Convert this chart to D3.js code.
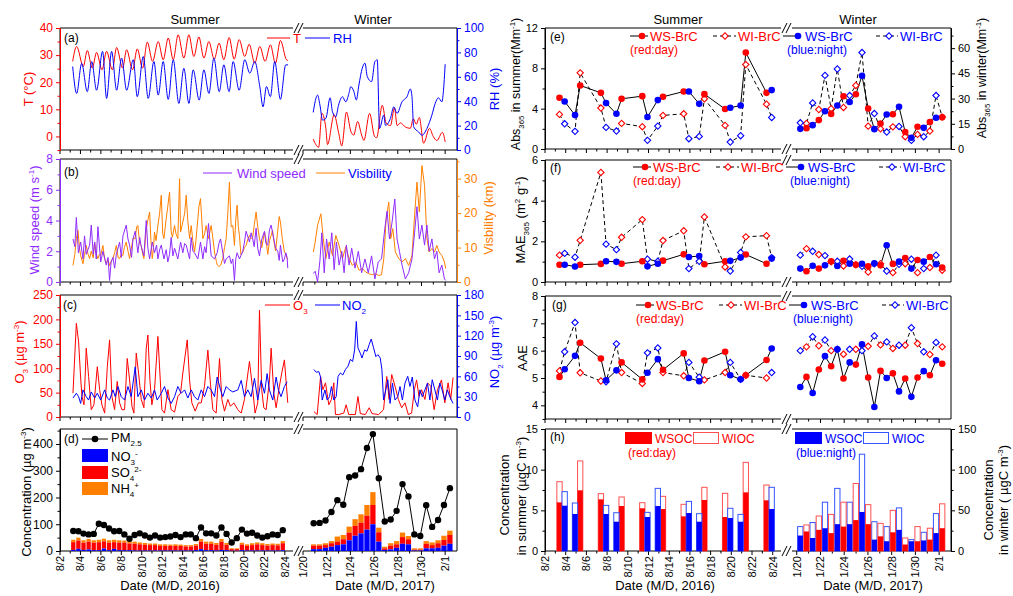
<!DOCTYPE html>
<html>
<head>
<meta charset="utf-8">
<script src="https://cdn.jsdelivr.net/npm/d3@7"></script>
<style>
  body { margin: 0; background: #fff; }
  svg text { font-family: "Liberation Sans", Arial, sans-serif; }
</style>
</head>
<body>
<script>
// ---------------- data (days: August 2016 / January 2017, 2/1 = day 32) ----------------
var sumTickDays = [2, 4, 6, 8, 10, 12, 14, 16, 18, 20, 22, 24];
var sumTickLabels = ["8/2", "8/4", "8/6", "8/8", "8/10", "8/12", "8/14", "8/16", "8/18", "8/20", "8/22", "8/24"];
var winTickDays = [20, 22, 24, 26, 28, 30, 32];
var winTickLabels = ["1/20", "1/22", "1/24", "1/26", "1/28", "1/30", "2/1"];

// (a) temperature and RH  [day, value]
var tempSummer = [[3.24,27.7],[3.63,33.2],[4.28,25.8],[4.67,31.7],[5.16,25.2],[5.58,31.0],[6.11,24.6],[6.56,31.4],[7.12,24.6],[7.54,32.8],[8.13,25.2],[8.52,32.0],[9.1,24.6],[9.56,32.3],[10.08,25.2],[10.54,34.8],[11.06,27.7],[11.61,35.0],[12.1,28.3],[12.59,36.3],[13.08,28.3],[13.56,37.5],[14.12,28.9],[14.61,37.5],[15.1,29.5],[15.59,36.7],[16.08,28.9],[16.57,35.0],[17.09,28.5],[17.57,34.4],[18.03,28.3],[18.55,36.5],[19.04,28.5],[19.53,35.7],[20.08,29.5],[20.51,34.0],[21.06,27.0],[21.55,33.2],[22.07,27.7],[22.59,33.8],[23.08,27.0],[23.57,35.4],[24.16,28.3],[24.32,28.0]];
var rhSummer = [[3.24,68.4],[3.63,46.4],[4.12,71],[4.67,47.8],[5.1,72.5],[5.58,49],[6.17,80.8],[6.56,42.3],[7.05,80.8],[7.54,49],[8.03,75.3],[8.52,49],[9.17,74],[9.56,43.7],[10.15,76.6],[10.63,42.3],[11.19,72.5],[11.61,45],[12.1,72.5],[12.59,41.5],[13.08,74],[13.63,38.2],[14.12,67],[14.61,38.2],[15.03,65.7],[15.62,40.9],[16.08,65.7],[16.57,46.4],[17.06,75.3],[17.58,47.8],[18.03,69.8],[18.55,47.8],[18.94,72.5],[19.53,49],[20.08,74],[20.57,63],[21.06,72.5],[21.55,52],[21.87,35.4],[22.2,52],[22.59,43.7],[23.01,72.5],[23.57,41.5],[24.09,69.8],[24.32,69.8]];
var tempWinter = [[20.86,-1],[21.32,-4],[21.6,8.5],[21.93,3],[22.07,-3],[22.63,8],[23.0,1.5],[23.27,-3.5],[23.67,9],[24.03,2],[24.28,0.5],[24.61,5.5],[24.95,0.5],[25.14,-1.5],[25.62,8.5],[26.04,0],[26.21,-0.5],[26.69,11.5],[27.02,5],[27.38,4],[27.72,10.5],[27.95,4],[28.22,5],[28.64,3.5],[29.06,3],[29.31,6.5],[29.56,4.5],[29.82,7],[30.18,-2.5],[30.68,3],[30.99,0],[31.3,-1.5],[31.77,1.5],[32.0,-2]];
var rhWinter = [[20.86,30.8],[21.23,45],[21.43,36.8],[21.65,24.5],[21.93,25.9],[22.29,42.8],[22.49,31.3],[22.77,27.2],[23.0,36.8],[23.33,43.7],[23.61,39.5],[23.88,46.5],[24.03,51.9],[24.3,47.8],[24.5,41],[24.72,53.3],[25.0,67],[25.23,71.2],[25.43,60.1],[25.79,56],[26.07,72.5],[26.27,73.9],[26.46,17.6],[26.82,28.6],[26.96,20.3],[27.38,25.9],[27.66,35.4],[27.94,30],[28.36,39.5],[28.78,43.7],[29.06,50],[29.2,43.7],[29.34,19],[29.76,14.8],[30.04,12.1],[30.46,17.6],[30.88,28.6],[31.16,38.2],[31.43,42.8],[31.72,39.5],[31.85,47.8],[32.0,70.3]];

// (b) wind speed and visibility
var windSummer = [[3.27,2.8],[3.45,2.3],[3.6,4.2],[3.8,1.9],[4.02,2.6],[4.25,1.5],[4.4,3.0],[4.57,1.8],[4.9,2.4],[5.06,3.7],[5.25,1.8],[5.39,2.6],[5.55,1.5],[5.71,3.6],[5.98,1.3],[6.2,2.0],[6.53,1.1],[6.7,1.6],[6.85,0.1],[7.0,1.3],[7.18,1.6],[7.35,0.9],[7.51,1.8],[7.83,2.6],[8.0,1.6],[8.16,3.0],[8.48,3.7],[8.65,2.8],[8.81,2.4],[9.0,1.6],[9.14,2.8],[9.36,3.3],[9.62,1.9],[9.8,2.9],[9.95,2.3],[10.21,1.7],[10.44,4.0],[10.6,2.2],[10.77,1.5],[11.03,2.6],[11.25,1.9],[11.45,2.4],[11.58,1.5],[11.75,2.1],[11.91,2.4],[12.17,1.5],[12.39,2.1],[12.55,1.3],[12.72,1.8],[12.88,2.9],[13.05,1.7],[13.21,2.2],[13.53,1.5],[13.8,2.6],[14.02,1.9],[14.2,2.5],[14.35,2.4],[14.68,1.5],[14.84,2.9],[15.0,2.0],[15.16,1.9],[15.49,1.5],[15.75,2.6],[15.98,1.5],[16.15,2.3],[16.3,1.9],[16.53,3.8],[16.79,1.7],[17.12,1.5],[17.38,1.9],[17.55,2.5],[17.71,2.8],[17.93,1.9],[18.1,1.2],[18.26,1.5],[18.58,1.7],[18.75,1.2],[18.91,1.5],[19.07,0.1],[19.2,1.5],[19.33,1.9],[19.56,1.5],[19.89,2.0],[20.05,2.6],[20.21,3.3],[20.54,2.6],[20.7,3.2],[20.86,2.8],[21.0,2.3],[21.19,3.5],[21.35,2.2],[21.52,1.7],[21.75,2.8],[22.01,3.3],[22.15,2.5],[22.33,2.4],[22.5,3.4],[22.66,3.7],[22.92,2.8],[23.1,2.2],[23.31,2.0],[23.45,1.4],[23.57,2.4],[23.8,1.3],[23.96,1.5],[24.1,1.9],[24.22,1.6],[24.29,0.9]];
var visSummer = [[3.27,4.8],[3.45,8],[3.6,12.6],[3.76,15],[3.9,10],[4.02,7.7],[4.25,5.3],[4.4,8],[4.57,10.6],[4.75,8],[4.9,6.8],[5.06,9],[5.25,7],[5.39,11.6],[5.55,8],[5.71,6.8],[5.85,8],[5.98,7.7],[6.2,10.6],[6.35,7],[6.53,5.3],[6.7,6.5],[6.85,4.8],[7.0,6],[7.18,6.8],[7.35,8.5],[7.51,10.6],[7.7,7],[7.83,6.8],[8.0,8],[8.16,7.7],[8.3,10],[8.48,11.6],[8.65,9],[8.81,6.8],[9.14,12.6],[9.36,12.6],[9.5,16],[9.62,16.4],[9.8,11],[9.95,10.6],[10.1,8],[10.21,6.8],[10.44,15.5],[10.6,18],[10.77,20.3],[10.9,12],[11.03,6.8],[11.15,10],[11.25,14.5],[11.4,12],[11.58,16.4],[11.75,20],[11.91,25.2],[12.05,14],[12.17,12.6],[12.3,16],[12.39,18.4],[12.55,22],[12.72,26.1],[12.8,20],[12.88,14.5],[13.0,13],[13.21,16.4],[13.35,14],[13.53,12.6],[13.7,30],[13.8,14.5],[14.02,17.4],[14.2,20],[14.35,25.2],[14.5,18],[14.68,12.6],[14.84,16.4],[15.0,12],[15.16,8.7],[15.3,12],[15.49,18.4],[15.6,22],[15.75,24.2],[15.98,12.6],[16.15,14],[16.3,16.4],[16.53,12.6],[16.79,16.4],[16.95,13],[17.12,8.7],[17.3,6],[17.38,5],[17.55,4.5],[17.71,4.8],[17.93,6.8],[18.1,10],[18.26,12.6],[18.42,20],[18.58,29],[18.75,16],[18.91,16.4],[19.07,10.6],[19.2,18],[19.33,22.3],[19.45,16],[19.56,13.5],[19.7,8],[19.89,8.7],[20.05,10],[20.21,10.6],[20.4,12.6],[20.54,13.5],[20.7,12.6],[20.86,13],[21.0,16.4],[21.19,20.3],[21.35,16],[21.52,12.6],[21.75,10],[22.01,14.5],[22.15,12.6],[22.33,8],[22.5,12],[22.66,13.5],[22.8,15],[22.92,12],[23.1,9],[23.31,15],[23.45,19],[23.57,17.4],[23.75,12.6],[23.96,8.7],[24.1,8],[24.22,6.8],[24.29,6.5]];
var windWinter = [[20.87,0.55],[21.03,0.7],[21.23,0],[21.43,1.4],[21.59,3.2],[21.79,0.6],[21.99,2.8],[22.21,1.5],[22.43,3.2],[22.63,0.8],[22.82,2.6],[23.05,1.1],[23.27,2.0],[23.47,0.6],[23.66,2.4],[23.89,1.1],[24.11,2.2],[24.39,0.9],[24.67,2.0],[24.95,0.6],[25.23,1.5],[25.51,0.6],[25.79,1.7],[26.07,0.2],[26.35,1.3],[26.63,1.5],[26.91,3.5],[27.1,4.6],[27.3,2.8],[27.52,3.9],[27.75,5.4],[27.94,2.8],[28.14,2.0],[28.36,1.1],[28.64,0.2],[28.92,0.6],[29.2,1.5],[29.42,3.2],[29.62,4.9],[29.82,2.8],[30.04,3.7],[30.26,2.4],[30.46,3.7],[30.65,2.0],[30.88,2.8],[31.1,1.5],[31.3,2.0],[31.49,0.6],[31.72,1.1],[31.94,0.2],[32.05,0.1]];
var visWinter = [[20.87,8.7],[21.03,11.6],[21.23,16.5],[21.51,19.8],[21.71,12.6],[21.93,6.8],[22.21,11.6],[22.49,7.7],[22.77,13.5],[23.05,10.6],[23.33,6.8],[23.61,10.2],[23.89,6.8],[24.17,4.8],[24.45,5.8],[24.73,3.4],[25.01,3.9],[25.29,2.9],[25.56,2.4],[25.84,2.1],[26.12,2.4],[26.4,1.9],[26.63,2.1],[26.82,6.8],[27.02,18.4],[27.24,23.2],[27.41,12.6],[27.58,15.5],[27.8,8.7],[28.08,6.8],[28.36,5.8],[28.64,6.8],[28.92,4.8],[29.2,7.7],[29.42,19.3],[29.62,29],[29.82,20.3],[30.04,33.8],[30.26,28],[30.46,12.6],[30.65,8.7],[30.88,9.7],[31.1,8.7],[31.3,10.6],[31.49,8.7],[31.72,7.7],[31.94,5.8],[32.05,3.9]];

// (c) O3 and NO2
var o3Summer = [[3.27,49],[3.6,192],[3.82,154],[4.02,80],[4.15,42],[4.35,25],[4.57,141],[4.8,83],[5.06,15],[5.32,25],[5.65,103],[5.88,56],[6.1,25],[6.37,8],[6.63,103],[6.85,158],[7.08,42],[7.34,15],[7.6,73],[7.83,29],[8.06,15],[8.32,15],[8.58,120],[8.81,76],[9.04,22],[9.23,8],[9.46,131],[9.69,90],[9.95,36],[10.21,19],[10.44,141],[10.6,168],[10.8,76],[10.99,25],[11.25,56],[11.58,165],[11.74,103],[11.97,15],[12.23,8],[12.56,56],[12.88,15],[13.21,10],[13.53,42],[13.8,49],[14.02,90],[14.45,158],[14.68,76],[14.9,29],[15.23,12],[15.55,29],[15.82,29],[16.14,63],[16.47,137],[16.73,66],[16.96,15],[17.28,8],[17.61,120],[17.84,36],[18.1,12],[18.42,36],[18.68,22],[19.01,29],[19.4,15],[19.73,8],[20.05,36],[20.54,114],[20.86,56],[21.09,8],[21.35,29],[21.52,219],[21.74,56],[21.94,19],[22.17,15],[22.5,76],[22.66,141],[22.92,49],[23.15,19],[23.47,63],[23.7,90],[23.96,117],[24.16,63],[24.29,29]];
var no2Summer = [[3.27,28],[3.6,35],[3.82,30],[4.02,20],[4.25,40],[4.57,30],[4.8,25],[5.06,37],[5.39,28],[5.65,35],[5.98,25],[6.37,40],[6.63,28],[6.85,25],[7.18,40],[7.41,30],[7.67,45],[7.99,30],[8.32,25],[8.65,45],[8.97,30],[9.36,74],[9.62,30],[9.95,40],[10.27,25],[10.6,35],[10.93,28],[11.25,40],[11.51,25],[11.91,35],[12.23,45],[12.56,28],[12.88,20],[13.21,30],[13.53,45],[13.86,35],[14.19,40],[14.51,28],[14.84,40],[15.16,30],[15.49,25],[15.82,40],[16.14,30],[16.47,45],[16.79,40],[17.12,30],[17.38,59],[17.71,40],[17.93,30],[18.26,45],[18.58,40],[18.91,37],[19.4,40],[19.73,54],[20.05,30],[20.38,40],[20.7,30],[21.03,57],[21.35,25],[21.68,54],[22.01,35],[22.27,64],[22.49,40],[22.82,25],[23.15,59],[23.37,40],[23.63,30],[23.96,45],[24.22,52]];
var o3Winter = [[20.92,11],[21.2,5],[21.48,83],[21.68,56],[21.9,70],[22.18,25],[22.4,36],[22.6,70],[22.74,5],[23.02,5],[23.44,8],[23.64,25],[23.86,5],[24.42,5],[24.64,42],[24.84,7],[25.26,5],[25.59,19],[25.82,7],[26.38,5],[26.8,15],[27.07,83],[27.27,36],[27.49,87],[27.77,63],[28.05,36],[28.33,19],[28.61,29],[28.89,5],[29.17,8],[29.4,56],[29.59,76],[29.79,42],[30.01,56],[30.29,36],[30.51,70],[30.79,63],[31.07,15],[31.35,56],[31.69,76],[31.97,29],[32.25,70],[32.47,36],[32.67,81]];
var no2Winter = [[20.92,70],[21.12,66],[21.34,67],[21.48,59],[21.62,25],[21.85,40],[22.04,25],[22.24,30],[22.4,45],[22.6,25],[22.8,30],[22.96,60],[23.16,65],[23.36,62],[23.58,70],[23.8,75],[24.0,85],[24.19,82],[24.36,99],[24.5,141],[24.64,102],[24.84,94],[24.98,87],[25.2,99],[25.4,97],[25.59,107],[25.76,115],[25.96,102],[26.15,89],[26.32,92],[26.52,87],[26.66,70],[26.8,25],[26.99,40],[27.16,55],[27.35,20],[27.55,50],[27.77,25],[28.0,30],[28.19,45],[28.39,25],[28.61,50],[28.84,60],[29.03,45],[29.23,59],[29.45,25],[29.68,15],[29.87,40],[30.07,30],[30.29,40],[30.51,50],[30.71,25],[30.91,55],[31.13,40],[31.35,25],[31.55,50],[31.74,40],[31.97,25],[32.19,40],[32.39,30],[32.67,20]];

// (d) PM2.5 and inorganic ions (two samples a day)
var pmSummerDays = [3.3,3.8,4.3,4.8,5.3,5.8,6.3,6.8,7.3,7.8,8.3,8.8,9.3,9.8,10.3,10.8,11.3,11.8,12.3,12.8,13.3,13.8,14.3,14.8,15.3,15.8,16.3,16.8,17.3,17.8,18.3,18.8,19.3,19.8,20.3,20.8,21.3,21.8,22.3,22.8,23.3,23.8];
var pmSummer = [75,74,65,62,64,102,97,84,74,75,62,46,60,66,58,50,58,50,52,54,60,52,62,62,48,88,66,66,58,88,64,32,48,80,65,68,58,50,55,62,60,78];
var no3Summer = [4,8,4,6,3,3,9,3,8,3,3,3,2,2,2,2,2,2,2,2,2,2,2,2,3,7,3,3,2,4,3,1,1,3,2,2,2,2,2,2,2,3];
var so4Summer = [29,31,27,29,28,30,27,28,25,28,28,25,25,23,21,20,20,17,17,17,17,17,15,15,17,28,24,24,21,31,20,6,6,21,17,20,23,20,18,20,19,26];
var nh4Summer = [9,11,9,10,9,9,10,9,9,9,8,8,8,7,7,6,6,6,6,5,6,5,5,5,6,10,8,8,7,10,7,3,3,7,6,7,7,7,6,6,6,8];
var pmWinterDays = [20.9,21.4,21.9,22.4,22.9,23.4,23.9,24.4,24.9,25.4,25.9,26.4,26.9,27.4,27.9,28.4,28.9,29.4,29.9,30.4,30.9,31.4,31.9,32.4];
var pmWinter = [104,105,114,146,190,173,276,282,306,385,437,272,110,118,150,250,204,62,56,171,90,116,172,235];
var no3Winter = [7,7,12,16,22,25,40,57,66,80,100,35,4,6,12,27,25,2,2,10,10,12,20,27];
var so4Winter = [13,13,10,13,13,19,29,37,40,52,72,35,6,14,13,25,19,3,3,17,12,17,21,33];
var nh4Winter = [5,5,7,8,19,16,22,25,31,40,48,17,6,9,12,17,12,5,5,10,10,11,16,16];

// (e)-(h) filter samples: day (red) and night (blue)
var sumDayT = [3.4,5.4,7.4,9.4,11.4,13.4,15.4,17.4,19.4,21.4,23.4];
var sumNightT = [3.9,4.9,7.9,8.9,11.9,12.9,15.9,16.9,19.9,20.9,23.9];
var winNightT = [20.3,21.34,22.38,23.42,24.46,25.5,26.54,27.58,28.62,29.66,30.7,31.74];
var winDayT = [20.82,21.86,22.9,23.94,24.98,26.02,27.06,28.1,29.14,30.18,31.22,32.26];

// (e) Abs365 (Mm-1)
var absWsDaySum = [5.08,6.3,5.57,4.98,5.24,5.18,5.7,5.44,3.96,9.56,5.57];
var absWsNightSum = [4.71,3.36,4.55,3.49,3.17,4.85,5.7,4.48,4.09,4.32,5.84];
var absWiDaySum = [3.43,7.55,4.06,2.54,2.21,3.33,3.49,4.98,2.34,8.37,4.45];
var absWiNightSum = [2.5,1.75,2.14,1.78,0.86,2.27,1.02,1.25,0.69,1.32,3.13];
var absWsDayWin = [12.4,17.2,20.9,31.4,32.6,24.1,15.2,20.7,10.1,13.2,16.0,18.9];
var absWsNightWin = [12.0,14.2,22.5,25.9,28.0,43.6,11.8,20.5,25.1,6.7,12.6,18.6];
var absWiDayWin = [15.2,23.5,24.0,24.7,37.8,13.6,12.0,13.2,7.3,8.7,10.7,19.0];
var absWiNightWin = [15.6,27.4,43.8,47.6,31.8,57.4,21.1,10.1,13.4,5.1,7.3,31.8];

// (f) MAE365 (m2 g-1)
var maeWsDaySum = [0.85,0.85,0.89,0.9,1.02,1.05,1.36,0.87,1.02,1.35,0.9];
var maeWsNightSum = [0.85,0.76,1.02,0.99,0.77,0.9,1.23,1.28,1.04,1.2,1.15];
var maeWiDaySum = [1.32,2.05,5.39,2.2,3.07,2.04,2.52,3.2,0.74,2.22,2.28];
var maeWiNightSum = [1.41,1.22,1.86,1.59,1.12,1.02,0.66,1.02,0.54,1.45,1.2];
var maeWsDayWin = [0.53,0.66,1.02,1.04,0.85,0.77,0.82,0.89,1.18,1.08,1.23,0.71];
var maeWsNightWin = [0.66,0.8,0.82,0.79,0.9,0.9,0.92,1.81,1.0,0.66,1.0,0.87];
var maeWiDayWin = [1.64,1.35,0.99,0.79,0.85,0.49,0.9,0.46,0.9,0.46,0.71,0.58];
var maeWiNightWin = [1.32,1.51,1.3,1.02,1.13,0.77,0.9,0.54,0.87,1.12,0.66,1.32];

// (g) AAE
var aaeWsDaySum = [5.04,6.29,5.71,5.57,4.95,5.3,5.9,5.64,5.96,5.1,5.66];
var aaeWsNightSum = [5.32,5.81,4.92,5.28,5.19,5.69,5.0,4.88,5.1,4.95,6.08];
var aaeWiDaySum = [5.26,5.19,4.89,5.2,4.8,5.2,5.08,4.93,5.2,5.1,5.0];
var aaeWiNightSum = [5.96,7.03,4.86,6.25,5.92,6.1,5.57,5.03,5.57,4.95,5.2];
var aaeWsDayWin = [5.04,5.31,5.43,4.98,5.49,5.02,5.26,5.17,4.98,5.02,5.1,5.52];
var aaeWsNightWin = [4.67,4.45,5.8,6.05,5.57,6.23,3.94,5.0,4.51,4.31,5.25,5.65];
var aaeWiDayWin = [6.14,6.18,6.0,5.87,6.05,6.16,6.21,6.08,6.2,6.26,5.86,6.14];
var aaeWiNightWin = [6.0,6.51,6.39,6.05,6.05,6.0,6.54,6.32,6.2,6.84,5.96,6.3];

// (h) WSOC and total (WSOC + WIOC), ugC m-3
var wsocDaySum = [5.98,7.46,6.35,5.53,5.25,5.16,4.26,6.27,4.18,7.21,6.23];
var totDaySum = [8.52,11.07,7.05,6.64,5.94,6.72,5.74,7.83,7.09,10.9,8.11];
var wsocNightSum = [5.57,4.55,4.55,3.6,4.18,5.53,4.67,3.6,4.06,3.6,5.16];
var totNightSum = [7.3,5.9,5.61,4.71,4.75,7.7,6.1,4.59,5.25,4.5,7.83];
var wsocDayWin = [24,26,22,30,38,33,18,23,8,12,14,28];
var totDayWin = [32,43,45,60,83,57,34,50,16,30,28,58];
var wsocNightWin = [19,16,28,33,33,48,14,12,26,12,13,22];
var totNightWin = [30,35,60,77,60,119,36,30,53,14,23,46];

// ---------------- drawing ----------------
var FONT = '"Liberation Sans", Arial, sans-serif';
var RED = "#ff0000", BLUE = "#0000ff", PURPLE = "#8f2bff", ORANGE = "#ff8000";

var svg = d3.select("body").append("svg")
    .attr("width", 1013).attr("height", 596)
    .style("font-family", FONT);

// x scales: left column and right column, each split in summer / winter
var xsL = d3.scaleLinear().domain([2, 24.8]).range([60, 293]);
var xwL = d3.scaleLinear().domain([20, 33]).range([303, 457]);
var xsR = d3.scaleLinear().domain([2, 24.8]).range([545, 781]);
var xwR = d3.scaleLinear().domain([19.6, 33]).range([792, 951]);

var sumMinor = d3.range(3, 24, 2), winMinor = d3.range(21, 32, 2);

function txt(x, y, parts, color, size, anchor, rot) {
    var t = svg.append("text")
        .attr("transform", "translate(" + x + "," + y + ")" + (rot ? " rotate(-90)" : ""))
        .attr("text-anchor", anchor || "start")
        .attr("fill", color || "#000")
        .style("font-size", size + "px");
    var shift = 0;
    parts.forEach(function(p) {
        var kind = p[1] || "";
        var target = kind === "sub" ? size * 0.3 : kind === "sup" ? -size * 0.4 : 0;
        t.append("tspan").attr("dy", target - shift)
            .style("font-size", (kind ? size * 0.62 : size) + "px").text(p[0]);
        shift = target;
    });
    return t;
}

function frame(xs, xw, y0, y1) {
    var g = svg.append("g").attr("stroke", "#000").attr("stroke-width", 1);
    var s0 = xs.range()[0], s1 = xs.range()[1], w0 = xw.range()[0], w1 = xw.range()[1];
    [y0, y1].forEach(function(y) {
        g.append("line").attr("x1", s0).attr("x2", s1).attr("y1", y).attr("y2", y);
        g.append("line").attr("x1", w0).attr("x2", w1).attr("y1", y).attr("y2", y);
        [1, 5].forEach(function(d) {
            g.append("line").attr("x1", s1 + d).attr("y1", y + 5).attr("x2", s1 + d + 5).attr("y2", y - 5);
        });
    });
    g.append("line").attr("x1", s0).attr("x2", s0).attr("y1", y0).attr("y2", y1);
    g.append("line").attr("x1", w1).attr("x2", w1).attr("y1", y0).attr("y2", y1);
    // bottom ticks
    [[xs, sumTickDays, sumMinor], [xw, winTickDays, winMinor]].forEach(function(a) {
        a[1].forEach(function(d) {
            g.append("line").attr("x1", a[0](d)).attr("x2", a[0](d)).attr("y1", y1).attr("y2", y1 + 4);
        });
        a[2].forEach(function(d) {
            g.append("line").attr("x1", a[0](d)).attr("x2", a[0](d)).attr("y1", y1).attr("y2", y1 + 2.5);
        });
    });
}

function dateLabels(xs, xw, y) {
    sumTickDays.forEach(function(d, i) {
        txt(xs(d) + 4, y, [[sumTickLabels[i]]], "#000", 11, "end", true);
    });
    winTickDays.forEach(function(d, i) {
        txt(xw(d) + 4, y, [[winTickLabels[i]]], "#000", 11, "end", true);
    });
}

function yAxis(scale, x, right, major, minor, color, size) {
    var mk = right ? d3.axisRight : d3.axisLeft;
    var g = svg.append("g").attr("transform", "translate(" + x + ",0)");
    g.append("g").call(mk(scale).tickValues(minor).tickSize(2.5).tickSizeOuter(0).tickFormat(""));
    g.append("g").call(mk(scale).tickValues(major).tickSize(4).tickSizeOuter(0).tickFormat(d3.format("d")));
    g.selectAll("path, line").attr("stroke", color);
    g.selectAll("text").attr("fill", color).style("font-size", (size || 12) + "px").style("font-family", FONT);
}

function series(data, xsc, ysc, color, curve) {
    svg.append("path").datum(data)
        .attr("fill", "none").attr("stroke", color).attr("stroke-width", 1)
        .attr("d", d3.line().x(function(d) { return xsc(d[0]); })
            .y(function(d) { return ysc(d[1]); }).curve(curve || d3.curveLinear));
}

function legLine(x1, x2, y, color, dash) {
    svg.append("line").attr("x1", x1).attr("x2", x2).attr("y1", y).attr("y2", y)
        .attr("stroke", color).attr("stroke-width", 1).attr("stroke-dasharray", dash || null);
}

function dot(x, y, c) {
    svg.append("circle").attr("cx", x).attr("cy", y).attr("r", 3.3).attr("fill", c);
}
function diamond(x, y, c) {
    svg.append("path").attr("d", d3.symbol().type(d3.symbolSquare).size(20)())
        .attr("transform", "translate(" + x + "," + y + ") rotate(45)")
        .attr("fill", "#fff").attr("stroke", c).attr("stroke-width", 1.1);
}

// headers
txt(195, 24, [["Summer"]], "#000", 13, "middle");
txt(373, 24, [["Winter"]], "#000", 13, "middle");
txt(678, 24, [["Summer"]], "#000", 13, "middle");
txt(858, 24, [["Winter"]], "#000", 13, "middle");

// ---------- (a) ----------
var yT = d3.scaleLinear().domain([-5, 40]).range([150, 28]);
var yRH = d3.scaleLinear().domain([0, 100]).range([150, 28]);
frame(xsL, xwL, 28, 150);
series(tempSummer, xsL, yT, RED, d3.curveMonotoneX);
series(tempWinter, xwL, yT, RED, d3.curveMonotoneX);
series(rhSummer, xsL, yRH, BLUE, d3.curveMonotoneX);
series(rhWinter, xwL, yRH, BLUE, d3.curveMonotoneX);
yAxis(yT, 60, false, [0, 10, 20, 30, 40], [-5, 5, 15, 25, 35], RED);
yAxis(yRH, 457, true, [0, 20, 40, 60, 80, 100], [10, 30, 50, 70, 90], BLUE);
txt(64, 42, [["(a)"]], "#000", 12);
legLine(267, 290, 38, RED); txt(293, 43, [["T"]], RED, 13);
legLine(305, 330, 38, BLUE); txt(333, 43, [["RH"]], BLUE, 13);
txt(33, 89, [["T (°C)"]], RED, 13, "middle", true);
txt(499, 89, [["RH (%)"]], BLUE, 13, "middle", true);

// ---------- (b) ----------
var yWS = d3.scaleLinear().domain([0, 8]).range([282, 159]);
var yVis = d3.scaleLinear().domain([0, 35.7]).range([282, 159]);
frame(xsL, xwL, 159, 282);
series(visSummer, xsL, yVis, ORANGE);
series(visWinter, xwL, yVis, ORANGE);
series(windSummer, xsL, yWS, PURPLE);
series(windWinter, xwL, yWS, PURPLE);
yAxis(yWS, 60, false, [0, 2, 4, 6, 8], [1, 3, 5, 7], PURPLE);
yAxis(yVis, 457, true, [0, 10, 20, 30], [5, 15, 25, 35], ORANGE);
txt(64, 176, [["(b)"]], "#000", 12);
legLine(203, 232, 173, PURPLE); txt(237, 178, [["Wind speed"]], PURPLE, 13);
legLine(316, 345, 173, ORANGE); txt(348, 178, [["Visbility"]], BLUE, 13);
txt(39, 220, [["Wind speed (m s"], ["-1", "sup"], [")"]], PURPLE, 13, "middle", true);
txt(493, 218, [["Visbility (km)"]], ORANGE, 13, "middle", true);

// ---------- (c) ----------
var yO3 = d3.scaleLinear().domain([0, 250]).range([417, 295]);
var yNO2 = d3.scaleLinear().domain([0, 180]).range([417, 295]);
frame(xsL, xwL, 295, 417);
series(o3Summer, xsL, yO3, RED);
series(o3Winter, xwL, yO3, RED);
series(no2Summer, xsL, yNO2, BLUE);
series(no2Winter, xwL, yNO2, BLUE);
yAxis(yO3, 60, false, [0, 50, 100, 150, 200, 250], [25, 75, 125, 175, 225], RED);
yAxis(yNO2, 457, true, [0, 30, 60, 90, 120, 150, 180], [15, 45, 75, 105, 135, 165], BLUE);
txt(63, 309, [["(c)"]], "#000", 12);
legLine(265, 290, 305, RED); txt(293, 310, [["O"], ["3", "sub"]], RED, 13);
legLine(315, 340, 305, BLUE); txt(342, 310, [["NO"], ["2", "sub"]], BLUE, 13);
txt(24, 352, [["O"], ["3", "sub"], [" (µg m"], ["-3", "sup"], [")"]], RED, 13, "middle", true);
txt(499, 352, [["NO"], ["2", "sub"], [" (µg m"], ["-3", "sup"], [")"]], BLUE, 13, "middle", true);

// ---------- (d) ----------
var yC = d3.scaleLinear().domain([0, 456]).range([551, 429]);
frame(xsL, xwL, 429, 551);
function stacks(days, a, b, c, xsc, w) {
    days.forEach(function(t, i) {
        var x = xsc(t) - w / 2, v1 = a[i], v2 = v1 + b[i], v3 = v2 + c[i];
        svg.append("rect").attr("x", x).attr("width", w).attr("y", yC(v3)).attr("height", yC(v2) - yC(v3)).attr("fill", ORANGE);
        svg.append("rect").attr("x", x).attr("width", w).attr("y", yC(v2)).attr("height", yC(v1) - yC(v2)).attr("fill", RED);
        svg.append("rect").attr("x", x).attr("width", w).attr("y", yC(v1)).attr("height", yC(0) - yC(v1)).attr("fill", BLUE);
    });
}
stacks(pmSummerDays, no3Summer, so4Summer, nh4Summer, xsL, 4.3);
stacks(pmWinterDays, no3Winter, so4Winter, nh4Winter, xwL, 5.3);
[[pmSummerDays, pmSummer, xsL], [pmWinterDays, pmWinter, xwL]].forEach(function(s) {
    var pts = s[0].map(function(t, i) { return [t, s[1][i]]; });
    series(pts, s[2], yC, "#000");
    pts.forEach(function(p) {
        svg.append("circle").attr("cx", s[2](p[0])).attr("cy", yC(p[1])).attr("r", 3.2).attr("fill", "#000");
    });
});
yAxis(yC, 60, false, [0, 100, 200, 300, 400], [50, 150, 250, 350, 450], "#000");
txt(64, 443, [["(d)"]], "#000", 12);
legLine(82, 108, 439, "#000"); dot(95, 439, "#000");
txt(111, 442, [["PM"], ["2.5", "sub"]], "#000", 13);
svg.append("rect").attr("x", 82).attr("y", 449).attr("width", 26).attr("height", 13).attr("fill", BLUE);
svg.append("rect").attr("x", 82).attr("y", 466).attr("width", 26).attr("height", 13).attr("fill", RED);
svg.append("rect").attr("x", 82).attr("y", 482).attr("width", 26).attr("height", 13).attr("fill", ORANGE);
txt(111, 461, [["NO"], ["3", "sub"], ["-", "sup"]], "#000", 13);
txt(111, 477, [["SO"], ["4", "sub"], ["2-", "sup"]], "#000", 13);
txt(111, 493, [["NH"], ["4", "sub"], ["+", "sup"]], "#000", 13);
txt(31, 492, [["Concentration (µg m"], ["-3", "sup"], [")"]], "#000", 13, "middle", true);
dateLabels(xsL, xwL, 556);
txt(170, 590, [["Date (M/D, 2016)"]], "#000", 13, "middle");
txt(385, 590, [["Date (M/D, 2017)"]], "#000", 13, "middle");

// ---------- (e)-(g) BrC panels ----------
function merged(tA, vA, tB, vB) {
    return tA.map(function(t, i) { return [t, vA[i]]; })
        .concat(tB.map(function(t, i) { return [t, vB[i]]; }))
        .sort(function(p, q) { return p[0] - q[0]; });
}
function brc(ys, yw, s, w) {
    // s, w: [wsDay, wsNight, wiDay, wiNight]
    [[xsR, ys, sumDayT, sumNightT, s], [xwR, yw, winDayT, winNightT, w]].forEach(function(p) {
        var x = p[0], y = p[1], td = p[2], tn = p[3], v = p[4];
        var line = d3.line().x(function(d) { return x(d[0]); }).y(function(d) { return y(d[1]); });
        svg.append("path").datum(merged(td, v[2], tn, v[3])).attr("d", line)
            .attr("fill", "none").attr("stroke", "#000").attr("stroke-dasharray", "4,3");
        svg.append("path").datum(merged(td, v[0], tn, v[1])).attr("d", line)
            .attr("fill", "none").attr("stroke", "#000");
        td.forEach(function(t, i) { diamond(x(t), y(v[2][i]), RED); });
        tn.forEach(function(t, i) { diamond(x(t), y(v[3][i]), BLUE); });
        td.forEach(function(t, i) { dot(x(t), y(v[0][i]), RED); });
        tn.forEach(function(t, i) { dot(x(t), y(v[1][i]), BLUE); });
    });
}
function brcLegend(x0, y) {
    legLine(x0, x0 + 18, y, "#000"); dot(x0 + 12, y, RED);
    txt(x0 + 20, y + 5, [["WS-BrC"]], RED, 13);
    legLine(x0 + 83, x0 + 106, y, "#000", "4,3"); diamond(x0 + 95, y, RED);
    txt(x0 + 108, y + 5, [["WI-BrC"]], RED, 13);
    legLine(x0 + 153, x0 + 170, y, "#000"); dot(x0 + 168, y, BLUE);
    txt(x0 + 175, y + 5, [["WS-BrC"]], BLUE, 13);
    legLine(x0 + 246, x0 + 268, y, "#000", "4,3"); diamond(x0 + 259, y, BLUE);
    txt(x0 + 270, y + 5, [["WI-BrC"]], BLUE, 13);
    txt(x0, y + 18, [["(red:day)"]], RED, 12);
    txt(x0 + 157, y + 18, [["(blue:night)"]], BLUE, 12);
}

// (e)
var yE = d3.scaleLinear().domain([0, 12]).range([149, 28]);
var yE2 = d3.scaleLinear().domain([0, 72]).range([149, 28]);
frame(xsR, xwR, 28, 149);
brc(yE, yE2, [absWsDaySum, absWsNightSum, absWiDaySum, absWiNightSum],
    [absWsDayWin, absWsNightWin, absWiDayWin, absWiNightWin]);
yAxis(yE, 545, false, [0, 4, 8, 12], [2, 6, 10], "#000", 11);
yAxis(yE2, 951, true, [0, 15, 30, 45, 60], [7.5, 22.5, 37.5, 52.5, 67.5], "#000", 11);
txt(550, 41, [["(e)"]], "#000", 12);
brcLegend(630, 36);
txt(520, 84, [["Abs"], ["365", "sub"], [" in summer(Mm"], ["-1", "sup"], [")"]], "#000", 12.5, "middle", true);
txt(986, 78, [["Abs"], ["365", "sub"], [" in winter(Mm"], ["-1", "sup"], [")"]], "#000", 12.5, "middle", true);

// (f)
var yF = d3.scaleLinear().domain([0, 6]).range([282, 160]);
frame(xsR, xwR, 160, 282);
brc(yF, yF, [maeWsDaySum, maeWsNightSum, maeWiDaySum, maeWiNightSum],
    [maeWsDayWin, maeWsNightWin, maeWiDayWin, maeWiNightWin]);
yAxis(yF, 545, false, [0, 2, 4, 6], [1, 3, 5], "#000", 11);
txt(550, 172, [["(f)"]], "#000", 12);
brcLegend(633, 167);
txt(525, 220, [["MAE"], ["365", "sub"], [" (m"], ["2", "sup"], [" g"], ["-1", "sup"], [")"]], "#000", 13, "middle", true);

// (g)
var yG = d3.scaleLinear().domain([3.5, 8]).range([419, 296]);
frame(xsR, xwR, 296, 419);
brc(yG, yG, [aaeWsDaySum, aaeWsNightSum, aaeWiDaySum, aaeWiNightSum],
    [aaeWsDayWin, aaeWsNightWin, aaeWiDayWin, aaeWiNightWin]);
yAxis(yG, 545, false, [4, 5, 6, 7, 8], [3.5, 4.5, 5.5, 6.5, 7.5], "#000", 11);
txt(552, 309, [["(g)"]], "#000", 12);
brcLegend(636, 305);
txt(527, 358, [["AAE"]], "#000", 13, "middle", true);

// (h)
var yH = d3.scaleLinear().domain([0, 15]).range([551, 429]);
var yH2 = d3.scaleLinear().domain([0, 150]).range([551, 429]);
frame(xsR, xwR, 429, 551);
function ocBars(times, wsoc, tot, xsc, ysc, fill, edge, w) {
    times.forEach(function(t, i) {
        var x = xsc(t) - w / 2;
        svg.append("rect").attr("x", x).attr("width", w).attr("y", ysc(tot[i]))
            .attr("height", ysc(0) - ysc(tot[i])).attr("fill", "#fff").attr("stroke", edge).attr("stroke-width", 1);
        svg.append("rect").attr("x", x).attr("width", w).attr("y", ysc(wsoc[i]))
            .attr("height", ysc(0) - ysc(wsoc[i])).attr("fill", fill);
    });
}
ocBars(sumDayT, wsocDaySum, totDaySum, xsR, yH, RED, "#ff5050", 5.3);
ocBars(sumNightT, wsocNightSum, totNightSum, xsR, yH, BLUE, "#3355ff", 5.3);
ocBars(winNightT, wsocNightWin, totNightWin, xwR, yH2, BLUE, "#3355ff", 5.3);
ocBars(winDayT, wsocDayWin, totDayWin, xwR, yH2, RED, "#ff5050", 5.3);
yAxis(yH, 545, false, [0, 5, 10, 15], [2.5, 7.5, 12.5], "#000", 11);
yAxis(yH2, 951, true, [0, 50, 100, 150], [25, 75, 125], "#000", 11);
txt(550, 441, [["(h)"]], "#000", 12);
svg.append("rect").attr("x", 625).attr("y", 432).attr("width", 27).attr("height", 12).attr("fill", RED);
txt(655, 443, [["WSOC"]], RED, 12);
svg.append("rect").attr("x", 693.5).attr("y", 432.5).attr("width", 25).attr("height", 11).attr("fill", "#fff").attr("stroke", "#ff5050");
txt(722, 443, [["WIOC"]], RED, 12);
txt(628, 457, [["(red:day)"]], RED, 12);
svg.append("rect").attr("x", 795).attr("y", 432).attr("width", 27).attr("height", 12).attr("fill", BLUE);
txt(825, 443, [["WSOC"]], BLUE, 12);
svg.append("rect").attr("x", 863.5).attr("y", 432.5).attr("width", 25).attr("height", 11).attr("fill", "#fff").attr("stroke", "#3355ff");
txt(892, 443, [["WIOC"]], BLUE, 12);
txt(796, 457, [["(blue:night)"]], BLUE, 12);
txt(509, 495, [["Concentration"]], "#000", 13, "middle", true);
txt(526, 496, [["in summer (µgC m"], ["-3", "sup"], [")"]], "#000", 13, "middle", true);
txt(993, 500, [["Concentration"]], "#000", 13, "middle", true);
txt(1008, 500, [["in winter (  µgC m"], ["-3", "sup"], [")"]], "#000", 13, "middle", true);
dateLabels(xsR, xwR, 556);
txt(665, 590, [["Date (M/D, 2016)"]], "#000", 13, "middle");
txt(873, 590, [["Date (M/D, 2017)"]], "#000", 13, "middle");
</script>
</body>
</html>
